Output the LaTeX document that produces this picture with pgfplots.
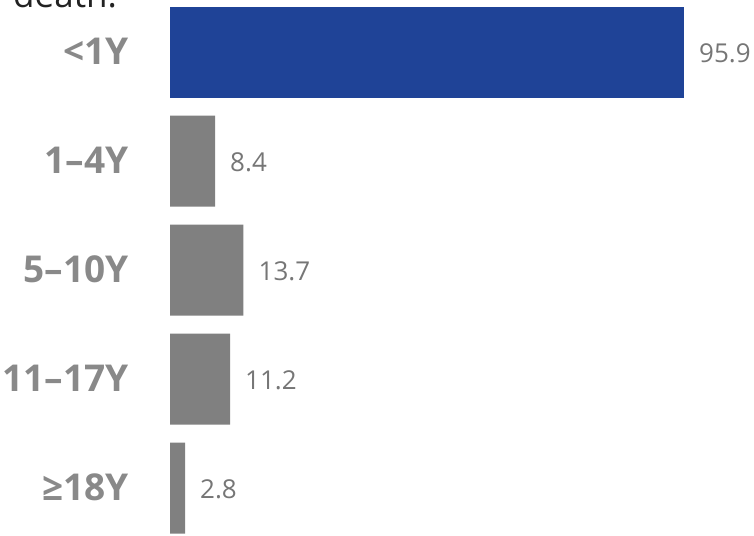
\documentclass[border=0pt]{standalone}
\usepackage{pgfplots}
\pgfplotsset{compat=1.18}
\usepackage{fontspec}
\setmainfont{Open Sans}
\definecolor{barblue}{RGB}{31,67,151}
\definecolor{bargray}{RGB}{128,128,128}
\definecolor{labgray}{RGB}{137,137,137}
\definecolor{valgray}{RGB}{118,118,118}
\definecolor{titlecol}{RGB}{34,34,34}
\begin{document}
\begin{tikzpicture}
\useasboundingbox (0pt,0pt) rectangle (754pt,535pt);
\clip (0pt,0pt) rectangle (754pt,535pt);
\node[anchor=base west, inner sep=0pt, font=\fontsize{35}{40}\selectfont, text=titlecol] at (13pt,527pt) {death.};
\begin{axis}[
  at={(170pt,537.3pt)}, anchor=north west,
  scale only axis, width=536pt, height=545pt,
  xbar, bar width=91pt, y dir=reverse,
  xmin=0, xmax=100, ymin=-0.5, ymax=4.5,
  axis line style={draw=none}, major tick style={draw=none},
  xtick=\empty, ytick={0,1,2,3,4},
  yticklabels={<1Y, 1–4Y, 5–10Y, 11–17Y, ≥18Y},
  yticklabel style={font=\fontsize{37}{40}\selectfont\bfseries, text=labgray, inner sep=0pt, xshift=-37pt, yshift=1pt},
  clip=false,
  nodes near coords,
  nodes near coords style={font=\fontsize{26}{30}\selectfont, text=valgray, anchor=west, inner sep=0pt, xshift=15pt, yshift=-1pt,
    /pgf/number format/.cd, fixed, precision=1, fixed zerofill, assume math mode=true},
]
\addplot[fill=barblue, draw=none, bar shift=0pt] coordinates {(95.9,0)};
\addplot[fill=bargray, draw=none, bar shift=0pt] coordinates {(8.4,1) (13.7,2) (11.2,3) (2.8,4)};
\end{axis}
\end{tikzpicture}
\end{document}
